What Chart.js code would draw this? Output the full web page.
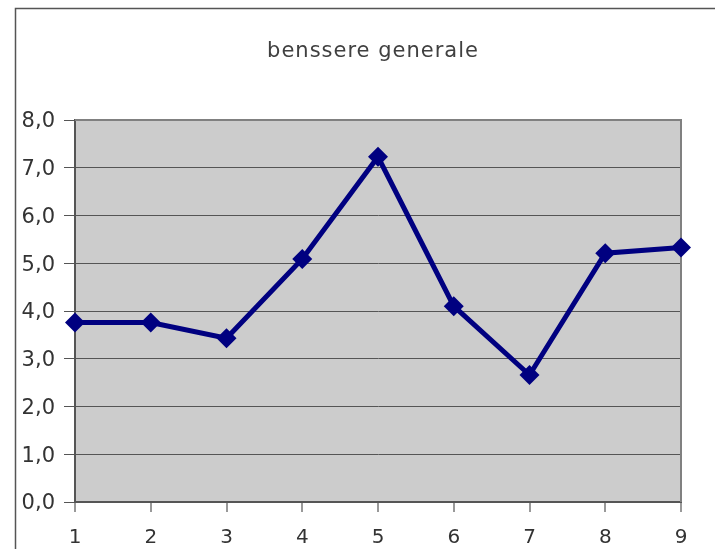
<!DOCTYPE html>
<html>
<head>
<meta charset="utf-8">
<script src="https://cdn.jsdelivr.net/npm/chart.js@4.4.1/dist/chart.umd.min.js"></script>
<style>
  html, body { margin: 0; padding: 0; background: #ffffff; }
  #wrap { width: 715px; height: 549px; position: relative; }
</style>
</head>
<body>
<div id="wrap"><canvas id="grafico"></canvas></div>
<script>
// Dati
const categorie = ['1', '2', '3', '4', '5', '6', '7', '8', '9'];
const valori = [3.76, 3.76, 3.43, 5.09, 7.23, 4.10, 2.66, 5.21, 5.33];
const titolo = 'benssere generale';

// Cornice esterna, sfondo area e titolo
const decorazioni = {
    id: 'decorazioni',
    beforeDraw(chart) {
        const { ctx, chartArea } = chart;
        ctx.save();
        ctx.fillStyle = '#cccccc';
        ctx.fillRect(chartArea.left, chartArea.top, chartArea.right - chartArea.left, chartArea.bottom - chartArea.top);
        ctx.strokeStyle = '#555555';
        ctx.lineWidth = 1.5;
        ctx.beginPath();
        ctx.moveTo(15.5, 549);
        ctx.lineTo(15.5, 8.5);
        ctx.lineTo(715, 8.5);
        ctx.stroke();
        ctx.fillStyle = '#404040';
        ctx.font = '21px "DejaVu Sans"';
        ctx.letterSpacing = '1px';
        ctx.textAlign = 'center';
        ctx.textBaseline = 'alphabetic';
        ctx.fillText(titolo, 373, 57);
        ctx.restore();
    },
    beforeDatasetsDraw(chart) {
        const { ctx, chartArea } = chart;
        ctx.save();
        ctx.strokeStyle = '#808080';
        ctx.lineWidth = 2;
        ctx.beginPath();
        ctx.moveTo(chartArea.left, chartArea.top);
        ctx.lineTo(chartArea.right, chartArea.top);
        ctx.lineTo(chartArea.right, chartArea.bottom);
        ctx.stroke();
        ctx.restore();
    }
};

new Chart(document.getElementById('grafico'), {
    type: 'line',
    data: {
        labels: categorie,
        datasets: [{
            label: titolo,
            data: valori,
            borderColor: '#000080',
            backgroundColor: '#000080',
            borderWidth: 5,
            tension: 0,
            pointStyle: 'rectRot',
            pointRadius: 10,
            pointHoverRadius: 10,
            pointBorderWidth: 0,
            clip: false
        }]
    },
    options: {
        responsive: true,
        maintainAspectRatio: false,
        animation: false,
        devicePixelRatio: 1,
        layout: { padding: { top: 120, right: 34, left: 0, bottom: 0 } },
        plugins: {
            legend: { display: false },
            title: { display: false },
            tooltip: { enabled: false }
        },
        scales: {
            x: {
                offset: false,
                afterFit(scale) { scale.height = 47; },
                grid: { drawOnChartArea: false, drawTicks: true, tickLength: 10, tickColor: '#999999', lineWidth: 2 },
                border: { color: '#555555', width: 2 },
                ticks: { color: '#333333', font: { family: 'DejaVu Sans', size: 20 }, padding: 14, maxRotation: 0 }
            },
            y: {
                min: 0,
                max: 8,
                afterFit(scale) { scale.width = 75; },
                grid: { color: '#555555', lineWidth: 1, drawTicks: true, tickLength: 11, tickColor: '#555555' },
                border: { color: '#555555', width: 2 },
                ticks: {
                    stepSize: 1,
                    color: '#333333',
                    padding: 9,
                    labelOffset: 2,
                    font: { family: 'DejaVu Sans', size: 21 },
                    callback: v => v.toFixed(1).replace('.', ',')
                }
            }
        }
    },
    plugins: [decorazioni]
});
</script>
</body>
</html>
